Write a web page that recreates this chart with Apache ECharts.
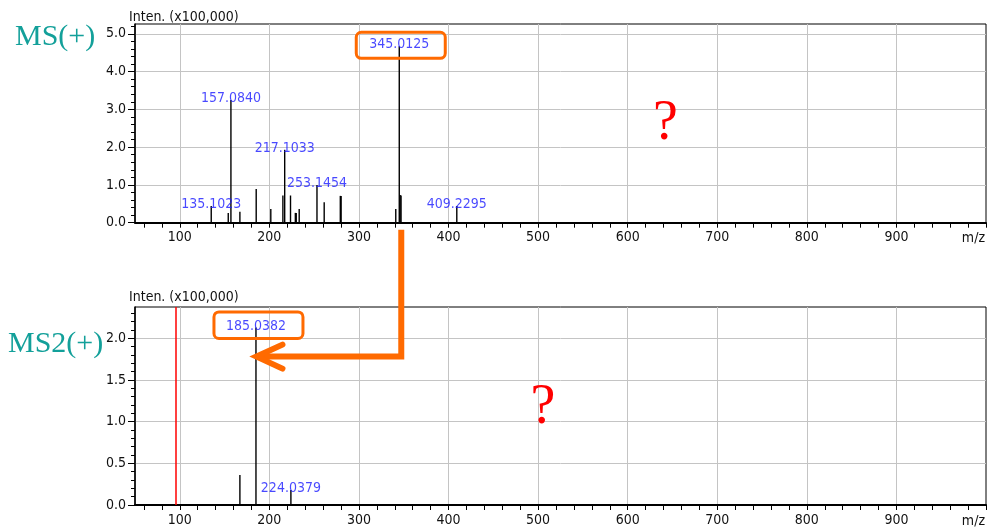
<!DOCTYPE html>
<html>
<head>
<meta charset="utf-8">
<script src="https://cdn.jsdelivr.net/npm/echarts@6/dist/echarts.min.js"></script>
<style>
html,body{margin:0;padding:0;background:#fff;}
#c{width:987px;height:531px;}
</style>
</head>
<body>
<div id="c"></div>
<script>
// ---- data ----
var ms1Mz  = [135.1023, 154.1, 157.0840, 167.1, 185.3, 201.6, 215.1, 217.1033, 223.6, 229.0, 230.0, 233.3, 253.1454, 261.2, 279.2, 280.1, 341.1, 345.0125, 346.0, 347.0, 409.2295];
var ms1Int = [0.44, 0.26, 3.25, 0.29, 0.89, 0.36, 0.72, 1.93, 0.72, 0.26, 0.26, 0.36, 1.00, 0.54, 0.71, 0.71, 0.36, 4.67, 0.73, 0.72, 0.44];
var ms1Lab = ['135.1023', '', '157.0840', '', '', '', '', '217.1033', '', '', '', '', '253.1454', '', '', '', '', '345.0125', '', '', '409.2295'];

var ms2Mz  = [167.1, 185.0382, 224.0379];
var ms2Int = [0.36, 2.13, 0.18];
var ms2Lab = ['', '185.0382', '224.0379'];
var ms2Marker = 96;          // red marker line (m/z)

var xMin = 50, xMax = 1000;
var xLabelTicks = [100, 200, 300, 400, 500, 600, 700, 800, 900];
var xMinorTicks = [];
for (var v = 60; v <= 1000; v += 20) xMinorTicks.push(v);

var y1Max = 5.26, y1Labels = [0, 1, 2, 3, 4, 5];
var y1Minor = [];
for (var k = 0; k <= 26; k++) y1Minor.push(+(k * 0.2).toFixed(2));
var y2Max = 2.375, y2Labels = [0, 0.5, 1.0, 1.5, 2.0];
var y2Minor = [];
for (var k2 = 0; k2 <= 23; k2++) y2Minor.push(+(k2 * 0.1).toFixed(2));

var highlight1 = 345.0125, highlight2 = 185.0382;

// ---- style ----
var narrow = "'Liberation Sans Narrow', 'DejaVu Sans Condensed', 'Arial Narrow', sans-serif";
var serif = "'Liberation Serif', 'DejaVu Serif', serif";
var gridGray = '#c4c4c4';
var labelBlue = '#1a1aff';
var orange = '#ff6a00';
var teal = '#13a09a';
var fs = 14;

function xAxes(g) {
  return [
    { type: 'value', gridIndex: g, min: xMin, max: xMax, position: 'bottom',
      axisLine: { show: true, onZero: false, lineStyle: { color: '#000', width: 2 } },
      axisTick: { show: true, length: 5, customValues: xMinorTicks, lineStyle: { color: '#000', width: 1 } },
      axisLabel: { show: true, customValues: xLabelTicks, margin: 8, color: '#111', fontFamily: narrow, fontSize: fs },
      splitLine: { show: false } },
    { type: 'value', gridIndex: g, min: xMin, max: xMax, position: 'bottom',
      axisLine: { show: false },
      axisTick: { show: false, customValues: xLabelTicks },
      axisLabel: { show: false, customValues: xLabelTicks },
      splitLine: { show: true, lineStyle: { color: gridGray, width: 1 } } }
  ];
}
function yAxes(g, max, labels, minor) {
  return [
    { type: 'value', gridIndex: g, min: 0, max: max, position: 'left', offset: 0,
      axisLine: { show: true, onZero: false, lineStyle: { color: '#000', width: 1.5 } },
      axisTick: { show: true, length: 4, customValues: minor, lineStyle: { color: '#000', width: 1 } },
      axisLabel: { show: true, customValues: labels, margin: 9, color: '#111', fontFamily: narrow, fontSize: fs,
                   formatter: function (v) { return v.toFixed(1); } },
      splitLine: { show: false } },
    { type: 'value', gridIndex: g, min: 0, max: max, position: 'left', offset: 0,
      axisLine: { show: false },
      axisTick: { show: true, length: 7, customValues: labels, lineStyle: { color: '#000', width: 1 } },
      axisLabel: { show: false, customValues: labels },
      splitLine: { show: true, lineStyle: { color: gridGray, width: 1 } } }
  ];
}

function stickSeries(xi, yi, mz, inten, extra) {
  var s = {
    type: 'custom', xAxisIndex: xi, yAxisIndex: yi, z: 5, silent: true,
    data: mz.map(function (m, i) { return [m, inten[i]]; }),
    encode: { x: 0, y: 1 },
    renderItem: function (params, api) {
      var p0 = api.coord([api.value(0), 0]);
      var p1 = api.coord([api.value(0), api.value(1)]);
      return { type: 'line', shape: { x1: p0[0], y1: p0[1], x2: p1[0], y2: p1[1] },
               style: { stroke: '#000', lineWidth: 1.4 } };
    }
  };
  if (extra) for (var key in extra) s[key] = extra[key];
  return s;
}
function labelSeries(xi, yi, mz, inten, labs) {
  var d = [];
  mz.forEach(function (m, i) { if (labs[i]) d.push([m, inten[i], labs[i]]); });
  return {
    type: 'scatter', xAxisIndex: xi, yAxisIndex: yi, z: 6, silent: true,
    symbolSize: 1, itemStyle: { color: 'rgba(0,0,0,0)' },
    data: d,
    label: { show: true, position: 'top', distance: 0, offset: [0, 6],
             formatter: function (p) { return p.data[2]; },
             color: labelBlue, fontFamily: narrow, fontSize: fs }
  };
}

var chart = echarts.init(document.getElementById('c'), null, { renderer: 'canvas' });
var option = {
  backgroundColor: '#fff',
  animation: false,
  grid: [
    { left: 135, top: 24, right: 1, height: 198.7, show: true, borderColor: '#000', borderWidth: 1, backgroundColor: 'transparent' },
    { left: 135, top: 307, right: 1, height: 198, show: true, borderColor: '#000', borderWidth: 1, backgroundColor: 'transparent' }
  ],
  xAxis: xAxes(0).concat(xAxes(1)),
  yAxis: yAxes(0, y1Max, y1Labels, y1Minor).concat(yAxes(1, y2Max, y2Labels, y2Minor)),
  series: [
    stickSeries(0, 0, ms1Mz, ms1Int),
    labelSeries(0, 0, ms1Mz, ms1Int, ms1Lab),
    stickSeries(2, 2, ms2Mz, ms2Int, {
      markLine: { symbol: 'none', silent: true, label: { show: false },
                  lineStyle: { color: '#ff0000', width: 1.5, type: 'solid' },
                  data: [{ xAxis: ms2Marker }] }
    }),
    labelSeries(2, 2, ms2Mz, ms2Int, ms2Lab)
  ]
};
chart.setOption(option);

// ---- annotations computed from the axes ----
var p1 = chart.convertToPixel({ xAxisIndex: 0, yAxisIndex: 0 }, [highlight1, ms1Int[ms1Mz.indexOf(highlight1)]]);
var p2 = chart.convertToPixel({ xAxisIndex: 2, yAxisIndex: 2 }, [highlight2, ms2Int[ms2Mz.indexOf(highlight2)]]);
var base1 = chart.convertToPixel({ xAxisIndex: 0, yAxisIndex: 0 }, [highlight1, 0]);
var arrowY = chart.convertToPixel({ xAxisIndex: 2, yAxisIndex: 2 }, [highlight2, 1.78])[1];
var q1 = chart.convertToPixel({ xAxisIndex: 0, yAxisIndex: 0 }, [642, 2.6]);
var q2 = chart.convertToPixel({ xAxisIndex: 2, yAxisIndex: 2 }, [505.5, 1.16]);
var bot1 = base1[1];
var bot2 = chart.convertToPixel({ xAxisIndex: 2, yAxisIndex: 2 }, [highlight2, 0])[1];
var top2 = chart.convertToPixel({ xAxisIndex: 2, yAxisIndex: 2 }, [highlight2, y2Max])[1];

var vx = p1[0] + 2;
var tipX = p2[0] + 0.5;

chart.setOption({
  graphic: [
    { type: 'text', left: 15, top: 22, style: { text: 'MS(+)', fill: teal, font: '30px ' + serif } },
    { type: 'text', left: 8, top: 329, style: { text: 'MS2(+)', fill: teal, font: '30px ' + serif } },
    { type: 'text', x: 129, y: 17, style: { text: 'Inten. (x100,000)', fill: '#111', font: fs + 'px ' + narrow, verticalAlign: 'middle' } },
    { type: 'text', x: 129, y: top2 - 9.5, style: { text: 'Inten. (x100,000)', fill: '#111', font: fs + 'px ' + narrow, verticalAlign: 'middle' } },
    { type: 'text', x: 985, y: bot1 + 16, style: { text: 'm/z', fill: '#111', font: fs + 'px ' + narrow, align: 'right', verticalAlign: 'middle' } },
    { type: 'text', x: 985, y: bot2 + 16, style: { text: 'm/z', fill: '#111', font: fs + 'px ' + narrow, align: 'right', verticalAlign: 'middle' } },
    { type: 'text', x: q1[0], y: q1[1], style: { text: '?', fill: '#ff0000', font: '56px ' + serif, align: 'center', verticalAlign: 'middle' } },
    { type: 'text', x: q2[0], y: q2[1], style: { text: '?', fill: '#ff0000', font: '56px ' + serif, align: 'center', verticalAlign: 'middle' } },
    { type: 'rect', z: 20, shape: { x: p1[0] - 43, y: p1[1] - 14, width: 89, height: 26, r: 5 },
      style: { fill: 'none', stroke: orange, lineWidth: 3 } },
    { type: 'rect', z: 20, shape: { x: p2[0] - 42, y: p2[1] - 15.5, width: 89, height: 26.5, r: 5 },
      style: { fill: 'none', stroke: orange, lineWidth: 3 } },
    { type: 'polyline', z: 20, shape: { points: [[vx, bot1 + 7], [vx, arrowY], [tipX + 4, arrowY]] },
      style: { fill: 'none', stroke: orange, lineWidth: 6, lineJoin: 'miter' } },
    { type: 'polyline', z: 20, shape: { points: [[tipX + 26, arrowY - 12], [tipX, arrowY], [tipX + 26, arrowY + 12]] },
      style: { fill: 'none', stroke: orange, lineWidth: 6, lineCap: 'round', lineJoin: 'miter' } }
  ]
});
</script>
</body>
</html>
